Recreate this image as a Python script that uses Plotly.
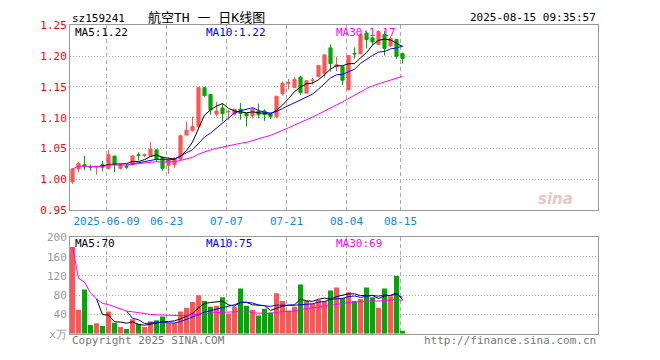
import plotly.graph_objects as go
import pandas as pd

# ---------------- data ----------------
dates = ["2025-05-29", "2025-05-30",
         "2025-06-03", "2025-06-04", "2025-06-05", "2025-06-06",
         "2025-06-09", "2025-06-10", "2025-06-11", "2025-06-12", "2025-06-13",
         "2025-06-16", "2025-06-17", "2025-06-18", "2025-06-19", "2025-06-20",
         "2025-06-23", "2025-06-24", "2025-06-25", "2025-06-26", "2025-06-27",
         "2025-06-30",
         "2025-07-01", "2025-07-02", "2025-07-03", "2025-07-04",
         "2025-07-07", "2025-07-08", "2025-07-09", "2025-07-10", "2025-07-11",
         "2025-07-14", "2025-07-15", "2025-07-16", "2025-07-17", "2025-07-18",
         "2025-07-21", "2025-07-22", "2025-07-23", "2025-07-24", "2025-07-25",
         "2025-07-28", "2025-07-29", "2025-07-30", "2025-07-31",
         "2025-08-01",
         "2025-08-04", "2025-08-05", "2025-08-06", "2025-08-07", "2025-08-08",
         "2025-08-11", "2025-08-12", "2025-08-13", "2025-08-14", "2025-08-15"]

opens = [0.996, 1.017, 1.024, 1.021, 1.020, 1.024, 1.018, 1.038, 1.018, 1.021,
         1.025, 1.040, 1.039, 1.038, 1.048, 1.036, 1.023, 1.024, 1.033, 1.072,
         1.079, 1.086, 1.149, 1.138, 1.106, 1.116, 1.110, 1.106, 1.114, 1.107,
         1.103, 1.111, 1.111, 1.106, 1.102, 1.139, 1.156, 1.149, 1.166, 1.140,
         1.161, 1.167, 1.172, 1.2135, 1.183, 1.183, 1.146, 1.2045, 1.2036, 1.2375,
         1.2297, 1.219, 1.235, 1.2166, 1.227, 1.204]
highs = [1.018, 1.028, 1.038, 1.024, 1.021, 1.030, 1.048, 1.038, 1.025, 1.024,
         1.040, 1.044, 1.042, 1.061, 1.048, 1.037, 1.036, 1.036, 1.073, 1.094,
         1.102, 1.149, 1.149, 1.138, 1.126, 1.123, 1.113, 1.114, 1.124, 1.107,
         1.116, 1.123, 1.114, 1.107, 1.135, 1.159, 1.163, 1.166, 1.168, 1.160,
         1.1645, 1.185, 1.203, 1.219, 1.199, 1.183, 1.201, 1.214, 1.236, 1.240,
         1.232, 1.242, 1.241, 1.232, 1.228, 1.206]
lows = [0.993, 1.011, 1.015, 1.014, 1.008, 1.013, 1.016, 1.012, 1.016, 1.017,
        1.024, 1.031, 1.036, 1.038, 1.029, 1.014, 1.009, 1.019, 1.031, 1.072,
        1.078, 1.084, 1.134, 1.105, 1.102, 1.094, 1.097, 1.104, 1.097, 1.086,
        1.099, 1.099, 1.095, 1.098, 1.099, 1.136, 1.146, 1.149, 1.137, 1.140,
        1.154, 1.166, 1.165, 1.175, 1.176, 1.153, 1.144, 1.196, 1.2036, 1.2125,
        1.217, 1.219, 1.201, 1.215, 1.196, 1.188]
closes = [1.017, 1.026, 1.021, 1.020, 1.021, 1.020, 1.040, 1.024, 1.024, 1.020,
          1.038, 1.039, 1.040, 1.049, 1.033, 1.018, 1.032, 1.034, 1.071, 1.080,
          1.086, 1.149, 1.136, 1.113, 1.111, 1.107, 1.110, 1.114, 1.107, 1.103,
          1.114, 1.105, 1.105, 1.102, 1.135, 1.156, 1.157, 1.162, 1.141, 1.160,
          1.161, 1.185, 1.202, 1.188, 1.186, 1.161, 1.201, 1.2036, 1.235, 1.227,
          1.223, 1.240, 1.2125, 1.229, 1.200, 1.196]
volumes = [180, 50, 92, 18, 22, 16, 46, 23, 14, 10,
           30, 20, 14, 26, 28, 36, 22, 22, 46, 54,
           66, 80, 68, 56, 58, 76, 42, 56, 94, 58,
           50, 38, 52, 44, 84, 68, 48, 56, 102, 68,
           62, 70, 68, 90, 96, 74, 86, 68, 72, 96,
           76, 54, 94, 78, 120, 6]
tick_dates = ["2025-06-09", "2025-06-23", "2025-07-07", "2025-07-21", "2025-08-04", "2025-08-15"]
price_ticks = [0.95, 1.00, 1.05, 1.10, 1.15, 1.20, 1.25]
vol_ticks = [0, 40, 80, 120, 160, 200]

# ---------------- derived ----------------
xs = list(range(len(dates)))
c = pd.Series(closes)
v = pd.Series(volumes)
ma5 = c.rolling(5).mean()
ma10 = c.rolling(10).mean()
ma30 = c.rolling(30, min_periods=1).mean()
vma5 = v.rolling(5).mean()
vma10 = v.rolling(10).mean()
vma30 = v.rolling(30, min_periods=1).mean()

RED = "#ff5555"
GREEN = "#00a800"
vol_colors = [RED if cl >= op else GREEN for op, cl in zip(opens, closes)]

W, H = 660, 360
def px(x):
    return x / W
def py(y):
    return 1 - y / H

MONO = "DejaVu Sans Mono"
TITLEF = "DejaVu Sans Mono, Noto Sans CJK SC"
tickpos = [dates.index(d) - 0.33 for d in tick_dates]
ticktxt = [tick_dates[0]] + [d[5:] for d in tick_dates[1:]]
xr = [-0.4167, 87.583]

fig = go.Figure()
fig.add_trace(go.Candlestick(
    x=xs, open=opens, high=highs, low=lows, close=closes,
    increasing=dict(line=dict(color=RED, width=1), fillcolor=RED),
    decreasing=dict(line=dict(color=GREEN, width=1), fillcolor=GREEN),
    whiskerwidth=0, showlegend=False, xaxis="x", yaxis="y"))
for s, col in [(ma5, "#000000"), (ma10, "#0000ff"), (ma30, "#ff00ff")]:
    fig.add_trace(go.Scatter(x=xs, y=s, mode="lines", line=dict(color=col, width=1),
                             showlegend=False, xaxis="x", yaxis="y"))
fig.add_trace(go.Bar(x=xs, y=volumes, marker=dict(color=vol_colors, line=dict(width=0)),
                     showlegend=False, xaxis="x2", yaxis="y2"))
for s, col in [(vma5, "#000000"), (vma10, "#0000ff"), (vma30, "#ff00ff")]:
    fig.add_trace(go.Scatter(x=xs, y=s, mode="lines", line=dict(color=col, width=1),
                             showlegend=False, xaxis="x2", yaxis="y2"))

grid = "#aaaaaa"
frame = "#999999"
fig.update_layout(
    width=W, height=H, margin=dict(l=0, r=0, t=0, b=0),
    paper_bgcolor="white", plot_bgcolor="white",
    boxgap=0.25, bargap=0.17,
    font=dict(family=MONO, size=10, color="#000"),
    xaxis=dict(domain=[px(70), px(598)], range=xr, anchor="y",
               tickvals=tickpos, ticktext=ticktxt, showgrid=True, gridcolor=grid,
               griddash="4px,3px", gridwidth=1, zeroline=False,
               showline=True, mirror=True, linecolor=frame, linewidth=1,
               ticks="", tickfont=dict(family=MONO, size=11, color="#1188dd"),
               rangeslider=dict(visible=False), fixedrange=True),
    yaxis=dict(domain=[py(212), py(20)], range=[0.9499, 1.2501], anchor="x",
               tickvals=price_ticks, ticktext=["%.2f" % t for t in price_ticks],
               showgrid=True, gridcolor=grid, griddash="1px,2px", gridwidth=1, zeroline=False,
               showline=True, mirror=True, linecolor=frame, linewidth=1,
               ticks="", tickfont=dict(family=MONO, size=11, color="#ff0000")),
    xaxis2=dict(domain=[px(70), px(598)], range=xr, anchor="y2",
                tickvals=tickpos, showticklabels=False, showgrid=True, gridcolor=grid,
                griddash="4px,3px", gridwidth=1, zeroline=False,
                showline=True, mirror=True, linecolor=frame, linewidth=1, ticks=""),
    yaxis2=dict(domain=[py(340), py(240)], range=[0, 200.2], anchor="x2",
                tickvals=vol_ticks, ticktext=["x万"] + [str(t) for t in vol_ticks[1:]],
                showgrid=True, gridcolor=grid, griddash="1px,2px", gridwidth=1, zeroline=False,
                showline=True, mirror=True, linecolor=frame, linewidth=1,
                ticks="", tickfont=dict(family=MONO, size=11, color="#999999")),
)

def ann(text, x, y, color="#000", size=10, xanchor="left", family=MONO):
    fig.add_annotation(text=text, x=px(x), y=py(y), xref="paper", yref="paper",
                       xanchor=xanchor, yanchor="middle", showarrow=False,
                       font=dict(family=family, size=size, color=color))

ann("sz159241", 70, 13, size=11)
ann("航空TH 一 日K线图", 206, 12, size=13, xanchor="center", family=TITLEF)
ann("2025-08-15 09:35:57", 598, 12, size=11, xanchor="right")
ann("MA5:%.2f" % ma5.iloc[-1], 73, 27, color="#000000", size=11)
ann("MA10:%.2f" % ma10.iloc[-1], 204, 27, color="#0000ff", size=11)
ann("MA30:%.2f" % ma30.iloc[-1], 334, 27, color="#ff00ff", size=11)
ann("MA5:%d" % round(vma5.iloc[-1]), 73, 246, color="#000000", size=11)
ann("MA10:%d" % round(vma10.iloc[-1]), 204, 246, color="#0000ff", size=11)
ann("MA30:%d" % round(vma30.iloc[-1]), 334, 246, color="#ff00ff", size=11)
ann("Copyright 2025 SINA.COM", 70, 347, color="#777777", size=11)
ann("http://finance.sina.com.cn", 598, 347, color="#777777", size=11, xanchor="right")
fig.add_annotation(text="<b><i>sina</i></b>", x=px(575), y=py(200), xref="paper", yref="paper",
                   showarrow=False, font=dict(family="DejaVu Sans", size=15, color="#e6c8c8"))

fig.write_html("out.html", config={"displayModeBar": False}, post_script=(
    "document.body.style.margin='0';document.body.style.padding='0';"
    "var d=document.getElementById('{plot_id}');"
    "d.style.position='absolute';d.style.left='0px';d.style.top='0px';"))
